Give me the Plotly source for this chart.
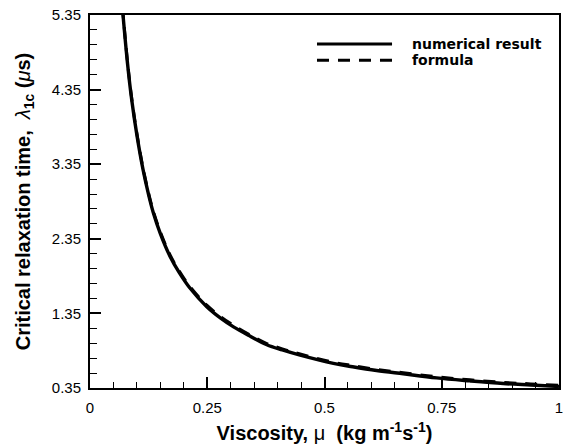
import plotly.graph_objects as go

# Data
mu_numerical = [0.069, 0.080, 0.089, 0.100, 0.113, 0.125, 0.135, 0.150, 0.171, 0.190,
                0.213, 0.249, 0.280, 0.306, 0.340, 0.377, 0.410, 0.448, 0.519, 0.560,
                0.611, 0.668, 0.739, 0.810, 0.881, 0.940, 1.000]
lam_numerical = [5.45, 4.70, 4.21, 3.74, 3.28, 2.94, 2.70, 2.42, 2.11, 1.90,
                 1.69, 1.44, 1.28, 1.17, 1.05, 0.93, 0.86, 0.79, 0.68, 0.635,
                 0.585, 0.54, 0.485, 0.445, 0.41, 0.39, 0.37]
mu_formula = [0.069, 0.080, 0.089, 0.100, 0.113, 0.125, 0.135, 0.150, 0.171, 0.190,
              0.213, 0.249, 0.280, 0.306, 0.340, 0.377, 0.410, 0.448, 0.519, 0.560,
              0.611, 0.668, 0.739, 0.810, 0.881, 0.940, 1.000]
lam_formula = [5.47, 4.72, 4.23, 3.76, 3.30, 2.96, 2.72, 2.44, 2.13, 1.92,
               1.71, 1.46, 1.30, 1.19, 1.065, 0.945, 0.875, 0.805, 0.695, 0.65,
               0.60, 0.555, 0.50, 0.46, 0.425, 0.405, 0.385]

x_ticks = [0, 0.25, 0.5, 0.75, 1]
x_tick_labels = ["0", "0.25", "0.5", "0.75", "1"]
y_ticks = [0.35, 1.35, 2.35, 3.35, 4.35, 5.35]
y_tick_labels = ["0.35", "1.35", "2.35", "3.35", "4.35", "5.35"]

FONT = "Liberation Sans, Arial, Helvetica, sans-serif"
LEG_FONT = "DejaVu Sans, Liberation Sans, Arial, sans-serif"

fig = go.Figure()
fig.add_trace(go.Scatter(x=mu_numerical, y=lam_numerical, mode="lines",
                         name="numerical result", showlegend=False,
                         line=dict(color="black", width=3.4, shape="spline", smoothing=1.0)))
fig.add_trace(go.Scatter(x=mu_formula, y=lam_formula, mode="lines",
                         name="formula", showlegend=False,
                         line=dict(color="black", width=3, dash="12px,9px",
                                   shape="spline", smoothing=1.0)))

# Legend drawn manually (long line samples as in the reference)
legend_items = [("numerical result", "solid", 0.922), ("formula", "12px,9px", 0.879)]
for label, dash, yy in legend_items:
    fig.add_shape(type="line", xref="paper", yref="paper", x0=0.484, x1=0.644,
                  y0=yy, y1=yy, line=dict(color="black", width=3, dash=dash))
    fig.add_annotation(xref="paper", yref="paper", x=0.682, y=yy, text=f"<b>{label}</b>",
                       showarrow=False, xanchor="left", yanchor="middle",
                       font=dict(family=LEG_FONT, size=14, color="black"))

fig.update_xaxes(range=[0, 1], tickvals=x_ticks, ticktext=x_tick_labels,
                 ticks="inside", ticklen=11, tickwidth=2, tickcolor="black",
                 showline=True, linewidth=2, linecolor="black", mirror=True,
                 showgrid=False, zeroline=False, ticklabelstandoff=5, automargin=False,
                 tickfont=dict(family=FONT, size=15, color="black"),
                 minor=dict(dtick=0.05, tick0=0, ticks="inside", ticklen=6,
                            tickwidth=1, tickcolor="black", showgrid=False),
                 title=dict(text="<b>Viscosity, <span style='font-weight:normal'>μ</span>  (kg m<sup>-1</sup>s<sup>-1</sup>)</b>",
                            font=dict(family=FONT, size=20, color="black"), standoff=11))
fig.update_yaxes(range=[0.35, 5.35], tickvals=y_ticks, ticktext=y_tick_labels,
                 ticks="inside", ticklen=11, tickwidth=2, tickcolor="black",
                 showline=True, linewidth=2, linecolor="black", mirror=True,
                 showgrid=False, zeroline=False, ticklabelstandoff=4, automargin=False,
                 tickfont=dict(family=FONT, size=15, color="black"),
                 minor=dict(dtick=0.2, tick0=0.35, ticks="inside", ticklen=7,
                            tickwidth=1, tickcolor="black", showgrid=False),
                 title=dict(text="<b>Critical relaxation time,  <i style='font-weight:normal'>λ</i><sub>1c</sub> (<i style='font-weight:normal'>μ</i>s)</b>",
                            font=dict(family=FONT, size=20, color="black"), standoff=16))

fig.update_layout(width=565, height=444, margin=dict(l=90, r=6, t=15, b=56),
                  plot_bgcolor="white", paper_bgcolor="white", showlegend=False)

fig.write_html("out.html")
